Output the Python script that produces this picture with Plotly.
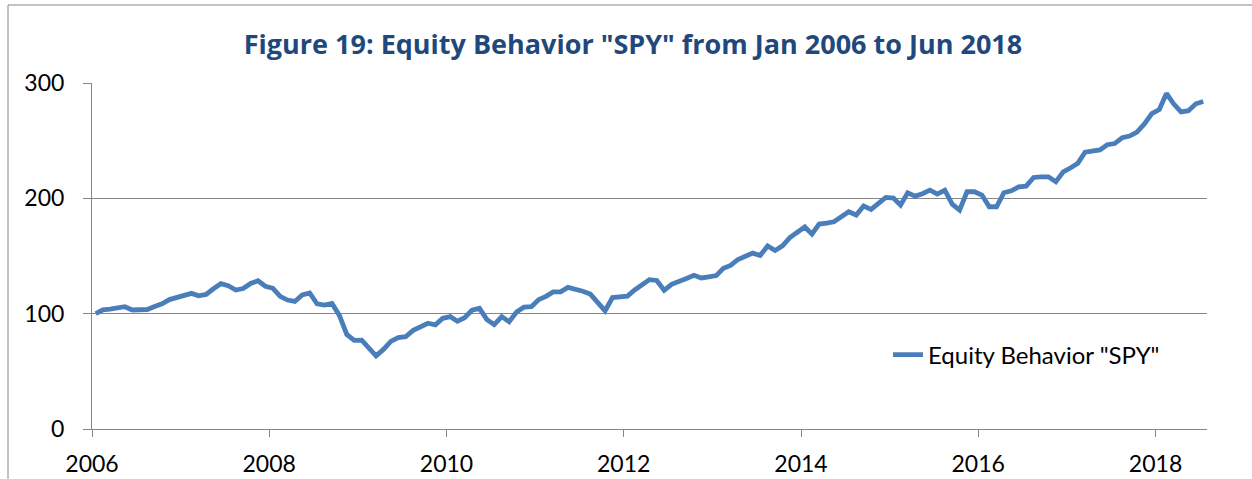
import pandas as pd
import plotly.graph_objects as go

# Monthly index values (base = 100), Jan 2006 ... Jun 2018
start_value = [100.0]
v2006 = [103.3, 103.9, 104.6, 106.0, 103.2, 103.1, 103.6, 106.2, 108.6, 112.2, 114.3, 115.6]
v2007 = [117.6, 115.5, 116.7, 121.6, 126.0, 124.2, 120.5, 121.8, 126.2, 128.5, 123.8, 122.0]
v2008 = [115.0, 111.8, 110.6, 116.3, 118.0, 108.6, 107.5, 108.8, 98.5, 82.0, 76.8, 77.0]
v2009 = [70.0, 63.4, 69.0, 76.0, 79.2, 80.0, 85.5, 88.5, 91.7, 90.3, 96.0, 97.4]
v2010 = [93.5, 96.5, 103.0, 104.6, 95.0, 90.5, 97.5, 93.0, 101.5, 105.6, 106.0, 112.3]
v2011 = [115.0, 118.9, 119.0, 122.8, 121.3, 119.5, 117.0, 110.3, 102.5, 114.0, 114.2, 115.2]
v2012 = [120.5, 125.5, 129.5, 128.8, 120.3, 125.5, 127.5, 130.5, 133.3, 131.0, 132.0, 133.0]
v2013 = [139.3, 141.8, 147.0, 149.5, 152.5, 150.5, 158.7, 154.8, 158.8, 166.0, 171.0, 175.2]
v2014 = [169.0, 177.7, 178.5, 179.7, 184.0, 188.3, 185.5, 193.3, 190.4, 195.0, 200.8, 200.3]
v2015 = [194.1, 204.8, 201.9, 204.0, 207.1, 203.7, 207.1, 195.0, 189.8, 205.7, 205.7, 202.8]
v2016 = [192.7, 192.7, 204.8, 206.5, 210.0, 210.6, 218.1, 218.6, 218.6, 214.3, 223.0, 226.5]
v2017 = [230.5, 240.0, 240.5, 242.0, 246.5, 247.5, 252.5, 254.0, 257.5, 264.5, 273.5, 277.0]
v2018 = [291.0, 282.0, 275.0, 276.0, 282.0, 284.0]

values = (start_value + v2006 + v2007 + v2008 + v2009 + v2010 + v2011 + v2012
          + v2013 + v2014 + v2015 + v2016 + v2017 + v2018)
months = pd.date_range("2006-01-01", periods=len(values), freq="MS")

tick_years = [2006, 2008, 2010, 2012, 2014, 2016, 2018]
y_ticks = [0, 100, 200, 300]

title_text = 'Figure 19: Equity Behavior "SPY" from Jan 2006 to Jun 2018'
series_name = 'Equity Behavior "SPY"'

FONT = "Lato, 'Open Sans', sans-serif"
TITLE_FONT = "'Open Sans', Lato, sans-serif"
GRAY = "#868686"

fig = go.Figure()
fig.add_trace(go.Scatter(
    x=months, y=values, mode="lines", name=series_name,
    xperiod="M1", xperiodalignment="middle",
    line=dict(color="#4A7EBB", width=4.8),
))

W, H = 1252, 479
ml, mr, mt, mb = 92, 45, 83, 50
pw, ph = W - ml - mr, H - mt - mb

fig.update_layout(
    width=W, height=H,
    margin=dict(l=ml, r=mr, t=mt, b=mb, autoexpand=False),
    paper_bgcolor="white", plot_bgcolor="white",
    title=dict(text=f"<b>{title_text}</b>", font=dict(family=TITLE_FONT, size=27, color="#1F497D"),
               x=(633 - ml) / pw, xref="paper", xanchor="center",
               y=1 - 45 / H, yref="container", yanchor="middle", automargin=False),
    showlegend=True,
    legend=dict(x=(888 - ml) / pw, y=(H - mb - 355) / ph, xanchor="left", yanchor="middle",
                font=dict(family=FONT, size=24, color="black"), bgcolor="rgba(0,0,0,0)"),
    xaxis=dict(
        type="date", automargin=False,
        range=["2006-01-01", "2018-08-01"],
        tickvals=[pd.Timestamp(f"{y}-01-01") for y in tick_years],
        ticktext=[str(y) for y in tick_years],
        showgrid=False, zeroline=False,
        showline=True, linecolor=GRAY, linewidth=1,
        ticks="outside", ticklen=7, tickcolor=GRAY, ticklabelstandoff=7,
        tickfont=dict(family=FONT, size=23, color="black"),
    ),
    yaxis=dict(
        range=[0, 300], tickvals=y_ticks, automargin=False,
        showgrid=True, gridcolor=GRAY, gridwidth=1, zeroline=False,
        showline=True, linecolor=GRAY, linewidth=1,
        ticks="outside", ticklen=8, tickcolor=GRAY, ticklabelstandoff=14,
        tickfont=dict(family=FONT, size=23, color="black"),
    ),
)

# chart-area border
fig.add_shape(type="rect", xref="paper", yref="paper",
              x0=(8 - ml) / pw, x1=(W + 20 - ml) / pw,
              y0=(H - mb - (H + 20)) / ph, y1=(H - mb - 5) / ph,
              line=dict(color=GRAY, width=1), fillcolor="rgba(0,0,0,0)", layer="below")

fig.write_html("out.html", config={"displayModeBar": False},
               post_script="document.body.style.margin='0';")
